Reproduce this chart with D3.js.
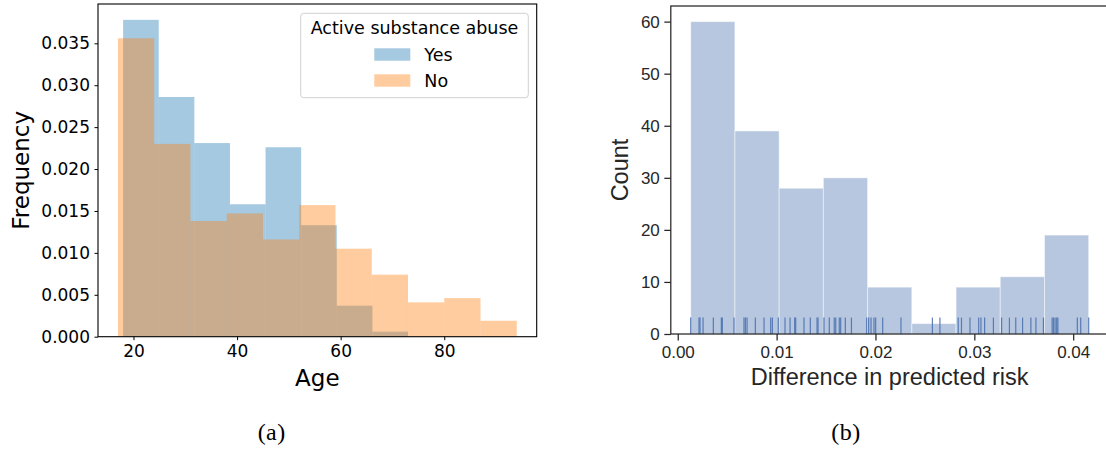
<!DOCTYPE html>
<html>
<head>
<meta charset="utf-8">
<script src="https://cdn.jsdelivr.net/npm/d3@7"></script>
<style>
  html, body { margin: 0; padding: 0; background: #fff; }
  svg { display: block; }
</style>
</head>
<body>
<svg id="chart" width="1106" height="449"></svg>
<script>
// ---------- Data: panel (a) ----------
const legendTitle = "Active substance abuse";
const seriesNames = ["Yes", "No"];
const ageYesRange = [18, 73];
const ageYesDensity = [0.0378, 0.0286, 0.0231, 0.0158, 0.0226, 0.0133, 0.0037, 0.0006];
const ageNoRange = [17, 94];
const ageNoDensity = [0.0356, 0.0230, 0.0138, 0.0147, 0.0116, 0.0157, 0.0105, 0.0074, 0.0041, 0.0046, 0.0019];
const ageXTicks = [20, 40, 60, 80];
const freqYTicks = [0, 0.005, 0.010, 0.015, 0.020, 0.025, 0.030, 0.035];

// ---------- Data: panel (b) ----------
const riskCounts = [60, 39, 28, 30, 9, 2, 9, 11, 19];
const rugValues = [
  0.00131, 0.00215, 0.00225, 0.00256, 0.00360, 0.00441, 0.00451, 0.00569, 0.00670, 0.00684,
  0.00701, 0.00785, 0.00873, 0.00940, 0.00957, 0.01017, 0.01085, 0.01136, 0.01183, 0.01193,
  0.01277, 0.01341, 0.01409, 0.01419, 0.01479, 0.01533, 0.01583, 0.01598, 0.01634, 0.01648,
  0.01695, 0.01757, 0.01911, 0.01931, 0.01955, 0.01985, 0.02002, 0.02073, 0.02258, 0.02576,
  0.02652, 0.02837, 0.02870, 0.02956, 0.03044, 0.03067, 0.03104, 0.03193, 0.03276, 0.03355,
  0.03419, 0.03488, 0.03572, 0.03623, 0.03699, 0.03787, 0.03801, 0.03817, 0.03833, 0.03845,
  0.04042, 0.04076, 0.04157
];
const riskXTicks = [0, 0.01, 0.02, 0.03, 0.04];
const countYTicks = [0, 10, 20, 30, 40, 50, 60];

const svg = d3.select("#chart");

function binsFrom(range, values) {
  const w = (range[1] - range[0]) / values.length;
  return values.map((v, i) => ({ x0: range[0] + i * w, x1: range[0] + (i + 1) * w, v }));
}

// ================= Panel (a) =================
(function () {
  const L = 98, T = 4, R = 536.7, B = 336.7;
  const lo = Math.min(ageYesRange[0], ageNoRange[0]);
  const hi = Math.max(ageYesRange[1], ageNoRange[1]);
  const pad = (hi - lo) * 0.05;
  const x = d3.scaleLinear().domain([lo - pad, hi + pad]).range([L, R]);
  const ymax = d3.max(ageYesDensity.concat(ageNoDensity)) * 1.05;
  const y = d3.scaleLinear().domain([0, ymax]).range([B, T]);
  const g = svg.append("g");

  const series = [
    { bins: binsFrom(ageYesRange, ageYesDensity), color: "#1f77b4" },
    { bins: binsFrom(ageNoRange, ageNoDensity), color: "#ff7f0e" }
  ];
  series.forEach(s => {
    g.append("g").selectAll("rect").data(s.bins).join("rect")
      .attr("x", d => x(d.x0)).attr("width", d => x(d.x1) - x(d.x0))
      .attr("y", d => y(d.v)).attr("height", d => y(0) - y(d.v))
      .attr("fill", s.color).attr("fill-opacity", 0.4);
  });

  const font = "'DejaVu Sans', sans-serif";
  const xa = g.append("g").attr("transform", `translate(0,${B})`)
    .call(d3.axisBottom(x).tickValues(ageXTicks).tickSize(3.5).tickPadding(4.5).tickFormat(d3.format("d")));
  const ya = g.append("g").attr("transform", `translate(${L},0)`)
    .call(d3.axisLeft(y).tickValues(freqYTicks).tickSize(3.5).tickPadding(4.5).tickFormat(d3.format(".3f")));
  [xa, ya].forEach(a => {
    a.select(".domain").remove();
    a.selectAll("line").attr("stroke", "#000").attr("stroke-width", 1);
    a.selectAll("text").attr("fill", "#000").style("font-family", font).style("font-size", "17px");
  });

  g.append("rect").attr("x", L).attr("y", T).attr("width", R - L).attr("height", B - T)
    .attr("fill", "none").attr("stroke", "#000").attr("stroke-width", 1.1);

  g.append("text").attr("x", (L + R) / 2).attr("y", 386).attr("text-anchor", "middle")
    .style("font-family", font).style("font-size", "23px").attr("fill", "#000").text("Age");
  g.append("text").attr("transform", `translate(28.5,${(T + B) / 2}) rotate(-90)`)
    .attr("text-anchor", "middle").style("font-family", font).style("font-size", "23px")
    .attr("fill", "#000").text("Frequency");

  // legend
  const lg = g.append("g");
  lg.append("rect").attr("x", 300.7).attr("y", 13.3).attr("width", 227.6).attr("height", 84.4)
    .attr("rx", 3).attr("fill", "#fff").attr("fill-opacity", 0.8)
    .attr("stroke", "#d0d0d0").attr("stroke-width", 1);
  lg.append("text").attr("x", 414.5).attr("y", 34.3).attr("text-anchor", "middle")
    .style("font-family", font).style("font-size", "17.5px").attr("fill", "#000").text(legendTitle);
  const items = [{ name: seriesNames[0], color: "#1f77b4", y: 48.3 }, { name: seriesNames[1], color: "#ff7f0e", y: 74.3 }];
  items.forEach(it => {
    lg.append("rect").attr("x", 374.3).attr("y", it.y).attr("width", 36).attr("height", 12.4)
      .attr("fill", it.color).attr("fill-opacity", 0.4);
    lg.append("text").attr("x", 424.3).attr("y", it.y + 12.7)
      .style("font-family", font).style("font-size", "17.5px").attr("fill", "#000").text(it.name);
  });

  svg.append("text").attr("x", 271.7).attr("y", 440).attr("text-anchor", "middle")
    .style("font-family", "'Liberation Serif', serif").style("font-size", "24px")
    .style("letter-spacing", "0.5px").attr("fill", "#000").text("(a)");
})();

// ================= Panel (b) =================
(function () {
  const L = 670.8, T = 6, B = 334;
  const ext = d3.extent(rugValues);
  const pad = (ext[1] - ext[0]) * 0.05;
  const dom = [ext[0] - pad, ext[1] + pad];
  const pxPerUnit = 9886;
  const R = L + (dom[1] - dom[0]) * pxPerUnit;
  const x = d3.scaleLinear().domain(dom).range([L, R]);
  const y = d3.scaleLinear().domain([0, d3.max(riskCounts) * 1.05]).range([B, T]);
  const g = svg.append("g");
  const ink = "#262626";
  const font = "'Liberation Sans', Arial, sans-serif";

  const bins = binsFrom(ext, riskCounts);
  g.append("g").selectAll("rect").data(bins).join("rect")
    .attr("x", d => x(d.x0)).attr("width", d => x(d.x1) - x(d.x0))
    .attr("y", d => y(d.v)).attr("height", d => y(0) - y(d.v))
    .attr("fill", "#4c72b0").attr("fill-opacity", 0.4)
    .attr("stroke", "#ffffff").attr("stroke-opacity", 0.5).attr("stroke-width", 1);

  const rugH = (B - T) * 0.05;
  g.append("g").selectAll("line").data(rugValues).join("line")
    .attr("x1", d => x(d)).attr("x2", d => x(d))
    .attr("y1", B).attr("y2", B - rugH)
    .attr("stroke", "#4c72b0").attr("stroke-width", 1.2).attr("stroke-opacity", 0.9);

  const xa = g.append("g").attr("transform", `translate(0,${B})`)
    .call(d3.axisBottom(x).tickValues(riskXTicks).tickSize(6.5).tickPadding(5).tickFormat(d3.format(".2f")));
  const ya = g.append("g").attr("transform", `translate(${L},0)`)
    .call(d3.axisLeft(y).tickValues(countYTicks).tickSize(6.5).tickPadding(4.5).tickFormat(d3.format("d")));
  [xa, ya].forEach(a => {
    a.select(".domain").remove();
    a.selectAll("line").attr("stroke", ink).attr("stroke-width", 1.25);
    a.selectAll("text").attr("fill", ink).style("font-family", font).style("font-size", "17px");
  });

  g.append("rect").attr("x", L).attr("y", T).attr("width", R - L).attr("height", B - T)
    .attr("fill", "none").attr("stroke", ink).attr("stroke-width", 1.25);

  g.append("text").attr("x", (L + R) / 2).attr("y", 385).attr("text-anchor", "middle")
    .style("font-family", font).style("font-size", "23.5px").attr("fill", ink).text("Difference in predicted risk");
  g.append("text").attr("transform", `translate(628,${(T + B) / 2}) rotate(-90)`)
    .attr("text-anchor", "middle").style("font-family", font).style("font-size", "23.5px")
    .attr("fill", ink).text("Count");

  svg.append("text").attr("x", 846).attr("y", 440).attr("text-anchor", "middle")
    .style("font-family", "'Liberation Serif', serif").style("font-size", "24px")
    .style("letter-spacing", "0.5px").attr("fill", "#000").text("(b)");
})();
</script>
</body>
</html>
